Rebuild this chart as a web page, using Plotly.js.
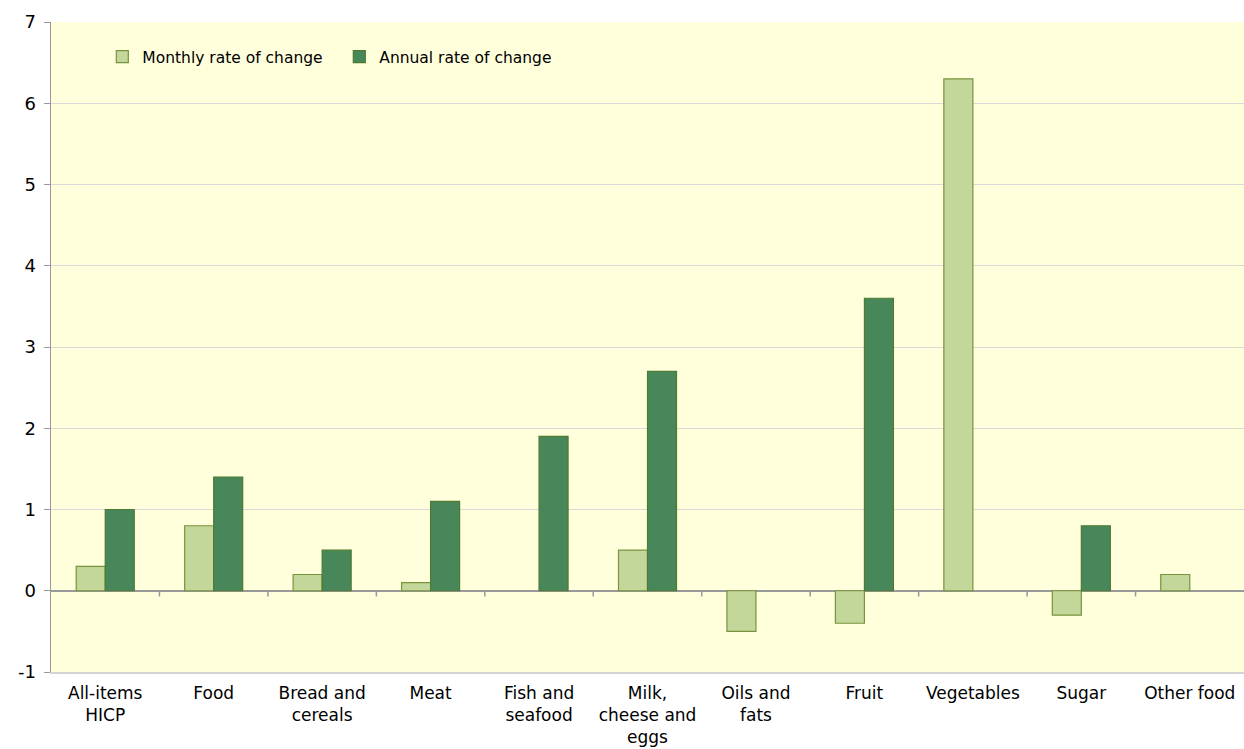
<!DOCTYPE html>
<html>
<head>
<meta charset="utf-8">
<script src="https://cdn.plot.ly/plotly-3.0.1.min.js"></script>
<style>html,body{margin:0;padding:0;background:#fff;}#chart{width:1244px;height:749px;}</style>
</head>
<body>
<div id="chart"></div>
<script>
const categories = ["All-items<br>HICP", "Food", "Bread and<br>cereals", "Meat", "Fish and<br>seafood", "Milk,<br>cheese and<br>eggs", "Oils and<br>fats", "Fruit", "Vegetables", "Sugar", "Other food"];
const monthly = [0.3, 0.8, 0.2, 0.1, null, 0.5, -0.5, -0.4, 6.3, -0.3, 0.2];
const annual = [1.0, 1.4, 0.5, 1.1, 1.9, 2.7, null, 3.6, null, 0.8, null];
const yTicks = [-1, 0, 1, 2, 3, 4, 5, 6, 7];
const yTickLabels = ["-1", "0", "1", "2", "3", "4", "5", "6", "7"];

const idx = categories.map((c, i) => i);
const font = "DejaVu Sans, Verdana, sans-serif";

const traces = [
  {type: "bar", name: "Monthly rate of change", x: idx, y: monthly,
   marker: {color: "#c4d79b", line: {color: "#77933c", width: 1.2}}},
  {type: "bar", name: "Annual rate of change", x: idx, y: annual,
   marker: {color: "#47875a", line: {color: "#4f7a2f", width: 1.2}}}
];

const shapes = [];
for (let i = 0; i < categories.length - 1; i++) {
  shapes.push({type: "line", xref: "x", yref: "y", x0: i + 0.5, x1: i + 0.5, y0: 0, y1: -0.07,
    line: {color: "#999999", width: 1.5}});
}

const layout = {
  width: 1244, height: 749,
  margin: {l: 51, r: 0, t: 22, b: 77},
  paper_bgcolor: "#ffffff",
  plot_bgcolor: "#ffffdc",
  barmode: "group",
  bargap: 0.465,
  bargroupgap: 0,
  font: {family: font, size: 17, color: "#000000"},
  showlegend: true,
  legend: {orientation: "h", x: 0.043, y: 0.946, xanchor: "left", yanchor: "middle",
    font: {family: font, size: 15.5, color: "#000"}, bgcolor: "rgba(0,0,0,0)",
    itemwidth: 30, entrywidth: 192, entrywidthmode: "pixels", traceorder: "normal"},
  xaxis: {
    tickmode: "array", tickvals: idx, ticktext: categories,
    range: [-0.5, categories.length - 0.5],
    showgrid: false, zeroline: false, ticks: "", ticklen: 0,
    showline: true, linecolor: "#d4d4d4", linewidth: 1.5, mirror: false,
    tickfont: {family: font, size: 17, color: "#000"},
    ticklabelstandoff: 5,
    fixedrange: true
  },
  yaxis: {
    range: [-1, 7], tickmode: "array", tickvals: yTicks, ticktext: yTickLabels,
    showgrid: true, gridcolor: "#d9d9d9", gridwidth: 1,
    zeroline: true, zerolinecolor: "#999999", zerolinewidth: 1.5,
    showline: true, linecolor: "#999999", linewidth: 1.5,
    ticks: "outside", ticklen: 6, tickcolor: "#999999", tickwidth: 1,
    tickfont: {family: font, size: 18, color: "#000"},
    ticklabelstandoff: 4,
    fixedrange: true
  },
  shapes: shapes
};

Plotly.newPlot("chart", traces, layout, {staticPlot: true, displayModeBar: false});
</script>
</body>
</html>
